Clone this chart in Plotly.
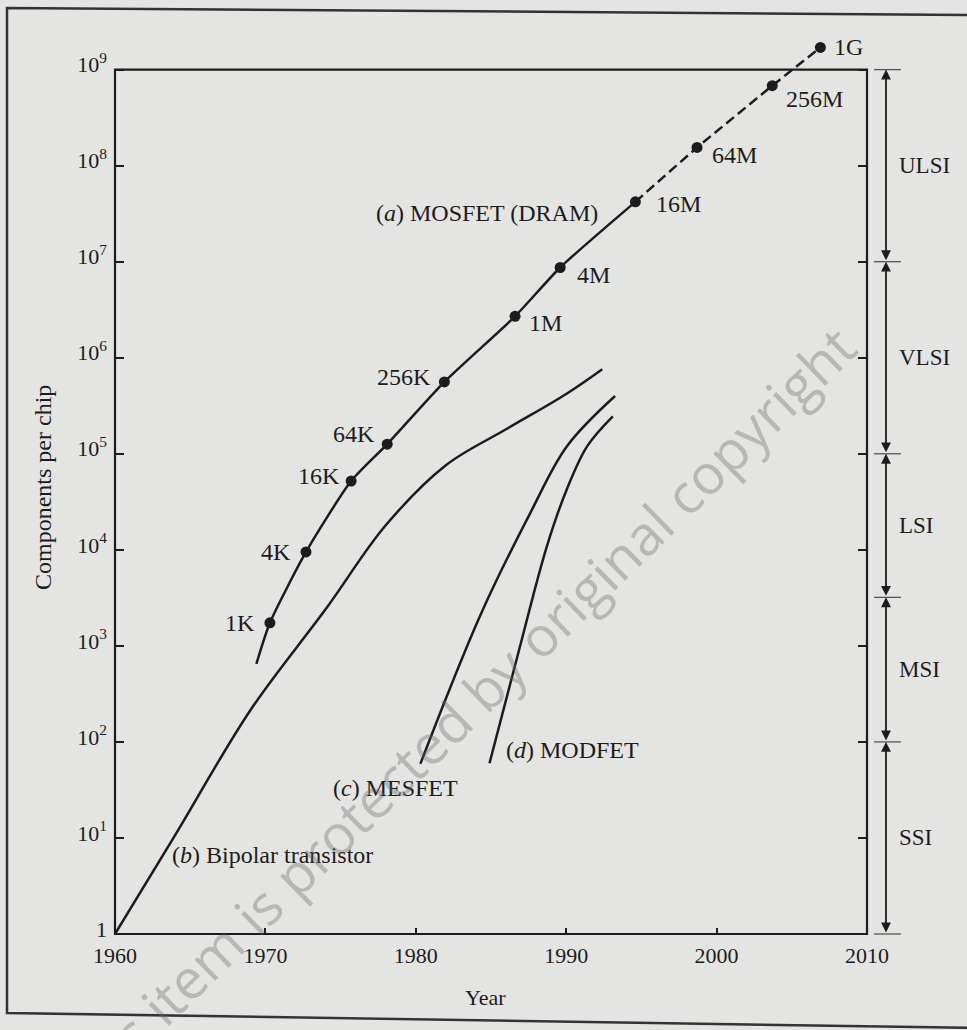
import math
import plotly.graph_objects as go

# ---------------- data ----------------
dram_years = [1970.3, 1972.7, 1975.7, 1978.1, 1981.9, 1986.6, 1989.6, 1994.6, 1998.7, 2003.7, 2006.9]
dram_counts = [1.74e3, 9.5e3, 5.2e4, 1.26e5, 5.6e5, 2.7e6, 8.7e6, 4.2e7, 1.55e8, 6.8e8, 1.7e9]
dram_labels = ["1K", "4K", "16K", "64K", "256K", "1M", "4M", "16M", "64M", "256M", "1G"]
dram_first_projected = "16M"          # curve is dashed from this generation on
dram_curve_start_year = 1969.4
dram_curve_start_count = 650

bipolar_years = [1960, 1964, 1969, 1974, 1978, 1982, 1986, 1990, 1992.4]
bipolar_counts = [1, 10.7, 214, 2.4e3, 1.8e4, 7.6e4, 1.8e5, 4.2e5, 7.6e5]

mesfet_years = [1980.3, 1984.3, 1987.6, 1990.05, 1993.25]
mesfet_counts = [59, 2.1e3, 2.4e4, 1.2e5, 4.0e5]

modfet_years = [1984.9, 1986.9, 1988.7, 1990.05, 1991.4, 1993.1]
modfet_counts = [60, 950, 1.07e4, 4.3e4, 1.2e5, 2.45e5]

scale_names = ["SSI", "MSI", "LSI", "VLSI", "ULSI"]
scale_bounds = [1, 1e2, 3.2e3, 1e5, 1e7, 1e9]

year_ticks = [1960, 1970, 1980, 1990, 2000, 2010]
count_ticks = [1, 1e1, 1e2, 1e3, 1e4, 1e5, 1e6, 1e7, 1e8, 1e9]
count_tick_text = ["1"] + ["10<sup>%d</sup>" % k for k in range(1, 10)]

# ---------------- styling ----------------
BG = "#e4e4e2"
INK = "#1c1c1c"
SERIF = "Liberation Serif, Times New Roman, serif"
FS = 24
FS_TICK = 22
Y_TOP = 9.35                 # log10 of the top of the plotting range
FRAME_TOP = 9.0              # log10 where the drawn frame ends

# label placement for the DRAM generations: (xanchor, xshift, yshift)
dram_label_pos = [
    ("right", -13, 0), ("right", -13, 0), ("right", -9, 5), ("right", -10, 10),
    ("right", -11, 5), ("left", 12, -7), ("left", 15, -7), ("left", 19, -2),
    ("left", 13, -8), ("left", 12, -13), ("left", 12, 0),
]

fig = go.Figure()

split = dram_labels.index(dram_first_projected)
LW = 2.5

# (a) MOSFET DRAM solid part
fig.add_trace(go.Scatter(
    x=[dram_curve_start_year] + dram_years[:split + 1],
    y=[dram_curve_start_count] + dram_counts[:split + 1],
    mode="lines", line=dict(color=INK, width=LW, shape="spline", smoothing=0.6),
    hoverinfo="skip", showlegend=False,
))
# projected part (dashed)
fig.add_trace(go.Scatter(
    x=dram_years[split:], y=dram_counts[split:],
    mode="lines", line=dict(color=INK, width=LW, dash="10px,5px"),
    hoverinfo="skip", showlegend=False,
))
# generation markers
fig.add_trace(go.Scatter(
    x=dram_years, y=dram_counts, mode="markers",
    marker=dict(size=11, color=INK), cliponaxis=False,
    hoverinfo="skip", showlegend=False,
))
# (b) bipolar, (c) MESFET, (d) MODFET
for xs, ys in [(bipolar_years, bipolar_counts), (mesfet_years, mesfet_counts),
               (modfet_years, modfet_counts)]:
    fig.add_trace(go.Scatter(x=xs, y=ys, mode="lines",
                             line=dict(color=INK, width=LW, shape="spline", smoothing=1.0),
                             hoverinfo="skip", showlegend=False))

annotations = []
for yr, cnt, lab, (xa, xs_, ys_) in zip(dram_years, dram_counts, dram_labels, dram_label_pos):
    annotations.append(dict(
        x=yr, y=math.log10(cnt), xref="x", yref="y", text=lab, showarrow=False,
        xanchor=xa, yanchor="middle", xshift=xs_, yshift=ys_,
        font=dict(family=SERIF, size=FS, color=INK),
    ))

W, H = 967, 1030
ML, MR, MT, MB = 115, 100, 36, 96
PW, PH = W - ML - MR, H - MT - MB


def px(xp):
    return (xp - ML) / PW


def py(yp):
    return (MT + PH - yp) / PH


curve_labels = [
    ("(<i>a</i>) MOSFET (DRAM)", 487, 213, "center"),
    ("(<i>b</i>) Bipolar transistor", 170, 855, "left"),
    ("(<i>c</i>) MESFET", 395, 788, "center"),
    ("(<i>d</i>) MODFET", 572, 750, "center"),
]
for txt, xp, yp, xa in curve_labels:
    annotations.append(dict(x=px(xp), y=py(yp), xref="paper", yref="paper", text=txt,
                            showarrow=False, xanchor=xa, yanchor="middle",
                            font=dict(family=SERIF, size=FS, color=INK)))

# integration-scale arrows on the right
ARROW_X = px(886)
TICK_X0, TICK_X1 = px(874), px(901)
shapes = []
for i, name in enumerate(scale_names):
    lo, hi = math.log10(scale_bounds[i]), math.log10(scale_bounds[i + 1])
    annotations.append(dict(
        x=ARROW_X, y=hi, xref="paper", yref="y", ax=0, ay=lo, axref="pixel", ayref="y",
        text="", showarrow=True, arrowside="end+start", arrowhead=2, arrowsize=1.1,
        arrowwidth=1.8, arrowcolor=INK, standoff=0, startstandoff=0,
    ))
    annotations.append(dict(
        x=px(897), y=(lo + hi) / 2, xref="paper", yref="y", text=name, showarrow=False,
        xanchor="left", yanchor="middle", font=dict(family=SERIF, size=23, color=INK),
    ))
for b in scale_bounds:
    shapes.append(dict(type="line", xref="paper", yref="paper", x0=TICK_X0, x1=TICK_X1,
                       y0=math.log10(b) / Y_TOP, y1=math.log10(b) / Y_TOP,
                       line=dict(color="#555", width=1.3)))

# axis titles
annotations.append(dict(x=px(43), y=py(488), xref="paper", yref="paper",
                        xanchor="center", yanchor="middle",
                        text="Components per chip", textangle=-90, showarrow=False,
                        font=dict(family=SERIF, size=24, color=INK)))
annotations.append(dict(x=px(485), y=py(997), xref="paper", yref="paper", text="Year",
                        xanchor="center", yanchor="middle", showarrow=False,
                        font=dict(family=SERIF, size=22, color=INK)))

# watermark on the scanned page
annotations.append(dict(x=px(455), y=py(716), xref="paper", yref="paper",
                        xanchor="center", yanchor="middle",
                        text="This item is protected by original copyright",
                        textangle=-44.3, showarrow=False,
                        font=dict(family="Open Sans, sans-serif", size=55,
                                  color="rgba(100,100,100,0.35)")))

# plot frame (ends at 10^9) and outer page frame
shapes.append(dict(type="rect", xref="paper", yref="paper", x0=0, x1=1, y0=0,
                   y1=FRAME_TOP / Y_TOP, line=dict(color=INK, width=2.2)))
shapes.append(dict(type="path", xref="paper", yref="paper",
                   path="M %f,%f L %f,%f L %f,%f L %f,%f" % (
                       px(980), py(15), px(7), py(8), px(7), py(1013), px(980), py(1028)),
                   line=dict(color="#333", width=2.5)))

fig.update_layout(
    width=W, height=H,
    margin=dict(l=ML, r=MR, t=MT, b=MB),
    paper_bgcolor=BG, plot_bgcolor=BG,
    showlegend=False, hovermode=False,
    font=dict(family=SERIF, size=FS, color=INK),
    annotations=annotations, shapes=shapes,
    xaxis=dict(range=[1960, 2010], tickvals=year_ticks, ticks="inside", ticklen=6,
               tickwidth=1.5, tickcolor=INK, showgrid=False, zeroline=False,
               showline=False, ticklabelstandoff=6,
               tickfont=dict(family=SERIF, size=FS_TICK, color=INK)),
    yaxis=dict(type="log", range=[0, Y_TOP], tickvals=count_ticks, ticktext=count_tick_text,
               ticks="inside", ticklen=9, tickwidth=1.5, tickcolor=INK, mirror="ticks",
               showgrid=False, zeroline=False, showline=False, ticklabelstandoff=7,
               ticklabelshift=-5,
               tickfont=dict(family=SERIF, size=FS_TICK, color=INK)),
)

fig.write_html("out.html", config={"displayModeBar": False},
               post_script="document.body.style.margin='0';")
